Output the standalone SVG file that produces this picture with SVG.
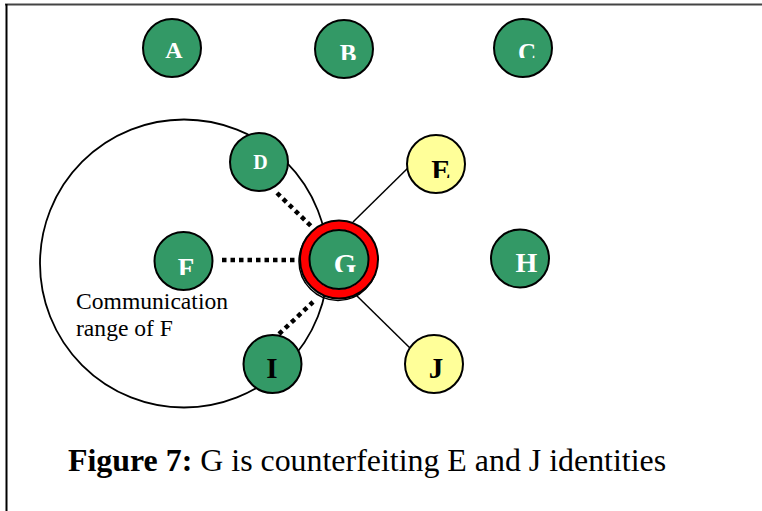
<svg xmlns="http://www.w3.org/2000/svg" width="762" height="511" viewBox="0 0 762 511">
  <style>
    .node { stroke: #000; stroke-width: 2; }
    .green { fill: #339966; }
    .yellow { fill: #ffff99; }
    .lbl { font-family: "Liberation Serif", "Times New Roman", serif; font-weight: bold; text-anchor: middle; }
    .w { fill: #fff; }
    .k { fill: #000; }
    .dots { stroke: #000; stroke-width: 4.5; stroke-dasharray: 4.5 4; fill: none; }
    .link { stroke: #000; stroke-width: 1.5; fill: none; }
    .note { font-family: "Liberation Serif", "Times New Roman", serif; font-size: 23.6px; fill: #000; }
    .cap { font-family: "Liberation Serif", "Times New Roman", serif; font-size: 31.9px; fill: #000; }
  </style>
  <defs>
    <clipPath id="cutB"><rect x="320" y="20" width="50" height="40"/></clipPath>
    <clipPath id="cutC"><rect x="500" y="20" width="50" height="38"/></clipPath>
    <clipPath id="cutE"><rect x="410" y="140" width="50" height="38"/></clipPath>
    <clipPath id="cutF"><rect x="160" y="240" width="50" height="35"/></clipPath>
    <clipPath id="cutG"><rect x="315" y="240" width="50" height="32"/></clipPath>
    <clipPath id="cutJ"><rect x="410" y="340" width="50" height="38"/></clipPath>
  </defs>

  <rect width="762" height="511" fill="#fff"/>
  <!-- frame: top and left rules -->
  <line x1="5" y1="4.5" x2="762" y2="4.5" stroke="#444" stroke-width="2"/>
  <line x1="6.5" y1="4" x2="6.5" y2="511" stroke="#000" stroke-width="2"/>

  <!-- communication range of F -->
  <circle id="range-F" cx="184" cy="263.5" r="144" fill="none" stroke="#000" stroke-width="1.8"/>
  <text class="note" x="76" y="309">Communication</text>
  <text class="note" x="76" y="336">range of F</text>

  <g id="connectors">
    <line class="dots" x1="277" y1="193" x2="312" y2="227"/>
    <line class="dots" x1="222" y1="260" x2="298" y2="260"/>
    <line class="dots" x1="279" y1="334" x2="313" y2="302"/>
    <line class="link" x1="353" y1="222" x2="412" y2="164"/>
    <line class="link" x1="356" y1="295" x2="412" y2="350"/>
  </g>

  <g id="node-A">
    <circle class="node green" cx="172" cy="48" r="29"/>
    <text class="lbl w" x="174" y="58" font-size="24">A</text>
  </g>
  <g id="node-B">
    <circle class="node green" cx="344" cy="49" r="29"/>
    <text class="lbl w" x="348" y="62" font-size="25" clip-path="url(#cutB)">B</text>
  </g>
  <g id="node-C">
    <circle class="node green" cx="523" cy="48" r="29"/>
    <text class="lbl w" x="527" y="61" font-size="25" clip-path="url(#cutC)">C</text>
  </g>
  <g id="node-D">
    <circle class="node green" cx="259" cy="162" r="29"/>
    <text class="lbl w" x="260.5" y="169" font-size="20">D</text>
  </g>
  <g id="node-E">
    <circle class="node yellow" cx="436" cy="164" r="29"/>
    <text class="lbl k" x="441" y="180" font-size="29" clip-path="url(#cutE)">E</text>
  </g>
  <g id="node-F">
    <circle class="node green" cx="183.5" cy="261" r="29"/>
    <text class="lbl w" x="186" y="277" font-size="27" clip-path="url(#cutF)">F</text>
  </g>
  <g id="node-G">
    <circle cx="338" cy="261.5" r="39" fill="none" stroke="#000" stroke-width="1.5"/>
    <circle cx="339" cy="259.5" r="34.5" fill="none" stroke="#ff0000" stroke-width="9"/>
    <circle cx="339" cy="259.5" r="39" fill="none" stroke="#000" stroke-width="2"/>
    <circle class="node green" cx="339" cy="259.5" r="29.5"/>
    <text class="lbl w" x="345" y="274" font-size="29" clip-path="url(#cutG)">G</text>
  </g>
  <g id="node-H">
    <circle class="node green" cx="520" cy="258.5" r="29"/>
    <text class="lbl w" x="526.5" y="272" font-size="28">H</text>
  </g>
  <g id="node-I">
    <circle class="node green" cx="272.5" cy="364" r="29"/>
    <text class="lbl k" x="272" y="378" font-size="29">I</text>
  </g>
  <g id="node-J">
    <circle class="node yellow" cx="434" cy="364" r="29"/>
    <text class="lbl k" x="436" y="378" font-size="29" clip-path="url(#cutJ)">J</text>
  </g>

  <text class="cap" x="68" y="471"><tspan font-weight="bold">Figure 7:</tspan> G is counterfeiting E and J identities</text>
</svg>
